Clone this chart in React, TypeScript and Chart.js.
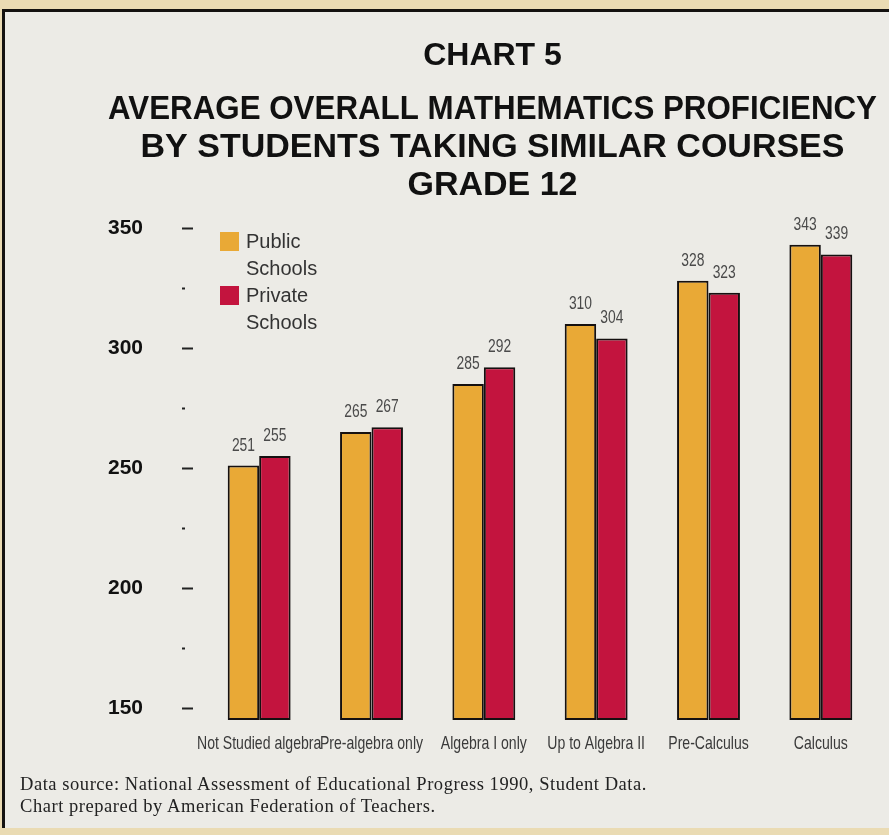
import React, { useEffect, useRef } from 'react';
import { Chart, registerables } from 'chart.js';

Chart.register(...registerables);

const categories = [
  'Not Studied algebra',
  'Pre-algebra only',
  'Algebra I only',
  'Up to Algebra II',
  'Pre-Calculus',
  'Calculus',
];
const publicSchools = [251, 265, 285, 310, 328, 343];
const privateSchools = [255, 267, 292, 304, 323, 339];
const yTickValues = [150, 175, 200, 225, 250, 275, 300, 325, 350];
const yLabelValues = [150, 200, 250, 300, 350];
const yMin = 145;
const yMax = 355;
const titleText = 'CHART 5';
const subtitleLines = [
  'AVERAGE OVERALL MATHEMATICS PROFICIENCY',
  'BY STUDENTS TAKING SIMILAR COURSES',
  'GRADE 12',
];
const seriesLabels = ['Public Schools', 'Private Schools'];
const footerLines = [
  'Data source: National Assessment of Educational Progress 1990, Student Data.',
  'Chart prepared by American Federation of Teachers.',
];

const PUBLIC_COLOR = '#e9a936';
const PRIVATE_COLOR = '#c3143e';
const SANS = '"Liberation Sans", Arial, sans-serif';

function condensedText(ctx: any, text: string, x: number, y: number, sx: number) {
  ctx.save();
  ctx.translate(x, y);
  ctx.scale(sx, 1);
  ctx.fillText(text, 0, 0);
  ctx.restore();
}

const valueLabels = {
  id: 'valueLabels',
  afterDatasetsDraw(chart: any) {
    const ctx = chart.ctx;
    ctx.save();
    ctx.font = `18px ${SANS}`;
    ctx.fillStyle = '#4a4a4a';
    ctx.textAlign = 'center';
    ctx.textBaseline = 'alphabetic';
    chart.data.datasets.forEach((ds: any, di: number) => {
      const meta = chart.getDatasetMeta(di);
      meta.data.forEach((bar: any, i: number) => {
        condensedText(ctx, String(ds.data[i]), bar.x, bar.y - 15, 0.77);
      });
    });
    ctx.restore();
  },
};

const categoryLabels = {
  id: 'categoryLabels',
  afterDraw(chart: any) {
    const ctx = chart.ctx;
    const xs = chart.scales.x;
    ctx.save();
    ctx.font = `19px ${SANS}`;
    ctx.fillStyle = '#3a3a3a';
    ctx.textAlign = 'center';
    ctx.textBaseline = 'middle';
    (chart.data.labels as string[]).forEach((lab: string, i: number) => {
      condensedText(ctx, lab, xs.getPixelForTick(i), chart.chartArea.bottom + 24, 0.74);
    });
    ctx.restore();
  },
};

const customLegend = {
  id: 'customLegend',
  afterDraw(chart: any) {
    const ctx = chart.ctx;
    const left = chart.chartArea.left + 17;
    let top = chart.chartArea.top + 16;
    ctx.save();
    ctx.font = `20px ${SANS}`;
    ctx.textAlign = 'left';
    ctx.textBaseline = 'middle';
    chart.data.datasets.forEach((ds: any) => {
      ctx.fillStyle = ds.backgroundColor;
      ctx.fillRect(left, top, 19, 19);
      ctx.fillStyle = '#333';
      const words = String(ds.label).split(' ');
      words.forEach((w: string, k: number) => {
        ctx.fillText(w, left + 26, top + 10 + k * 27);
      });
      top += 54;
    });
    ctx.restore();
  },
};

export default function App() {
  const canvasRef = useRef<HTMLCanvasElement | null>(null);

  useEffect(() => {
    if (!canvasRef.current) return;
    const barCommon = {
      borderColor: '#151010',
      borderWidth: 2,
      borderSkipped: false,
      clip: false,
      base: yMin,
      categoryPercentage: 0.56,
      barPercentage: 1.0,
    };
    const chart = new Chart(canvasRef.current, {
      type: 'bar',
      data: {
        labels: categories,
        datasets: [
          { label: seriesLabels[0], data: publicSchools, backgroundColor: PUBLIC_COLOR, ...barCommon },
          { label: seriesLabels[1], data: privateSchools, backgroundColor: PRIVATE_COLOR, ...barCommon },
        ],
      },
      options: {
        responsive: false,
        animation: false,
        devicePixelRatio: 1,
        layout: { padding: { left: 108, right: 12, top: 0, bottom: 75 } },
        plugins: {
          legend: { display: false },
          tooltip: { enabled: false },
          title: {
            display: true,
            text: titleText,
            color: '#111',
            font: { family: SANS, weight: 'bold', size: 32, lineHeight: 1.2 },
            padding: { top: 37, bottom: 0 },
          },
          subtitle: {
            display: true,
            text: subtitleLines,
            color: '#111',
            font: { family: SANS, weight: 'bold', size: 34, lineHeight: 38 / 34 },
            padding: { top: 15.6, bottom: 11 },
          },
        },
        scales: {
          x: {
            offset: true,
            grid: { display: false, drawTicks: false },
            border: { display: false },
            ticks: { display: false, autoSkip: false, maxRotation: 0, minRotation: 0 },
            afterFit: (s: any) => {
              s.height = 40;
            },
          },
          y: {
            min: yMin,
            max: yMax,
            afterBuildTicks: (s: any) => {
              s.ticks = yTickValues.map((v) => ({ value: v }));
            },
            afterFit: (s: any) => {
              s.width = 95;
            },
            border: { display: false },
            grid: {
              drawOnChartArea: false,
              drawTicks: true,
              tickLength: 21,
              tickColor: '#222',
              tickWidth: 2,
              tickBorderDash: (ctx: any) =>
                ctx.tick && yLabelValues.includes(ctx.tick.value) ? [11, 40] : [3, 40],
            },
            ticks: {
              padding: 39,
              color: '#111',
              font: { family: SANS, weight: 'bold', size: 21 },
              callback: (v: any) => (yLabelValues.includes(Number(v)) ? String(v) : ''),
            },
          },
        },
      },
      plugins: [valueLabels, categoryLabels, customLegend],
    } as any);
    return () => chart.destroy();
  }, []);

  return (
    <div
      style={{
        position: 'fixed',
        left: 0,
        top: 0,
        width: 889,
        height: 835,
        background: '#eadbb3',
        overflow: 'hidden',
      }}
    >
      <div
        style={{
          position: 'absolute',
          left: 2,
          top: 9,
          right: 0,
          bottom: 7,
          borderTop: '3px solid #141210',
          borderLeft: '3px solid #141210',
          background: '#ecebe6',
        }}
      />
      <canvas
        ref={canvasRef}
        width={889}
        height={835}
        style={{ position: 'absolute', left: 0, top: 0, width: 889, height: 835 }}
      />
      <div
        style={{
          position: 'absolute',
          left: 20,
          top: 773,
          fontFamily: '"Liberation Serif", "Times New Roman", serif',
          fontSize: 18.5,
          letterSpacing: '0.55px',
          lineHeight: '22px',
          color: '#222',
          whiteSpace: 'nowrap',
        }}
      >
        {footerLines.map((l, i) => (
          <div key={i}>{l}</div>
        ))}
      </div>
    </div>
  );
}
